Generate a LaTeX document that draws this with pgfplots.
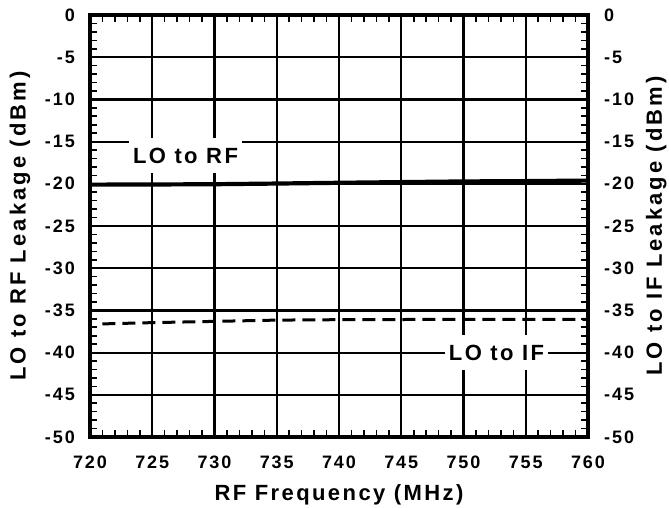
\documentclass[border=0pt]{standalone}
\usepackage{pgfplots}
\pgfplotsset{compat=1.18}
\usepackage{fontspec}
\setmainfont{Liberation Sans}
\newfontfamily\sfont{Liberation Sans}[LetterSpace=11]
\newfontfamily\yfont{Liberation Sans}[LetterSpace=14]
\newcommand\tickfont{\sfont\bfseries\fontsize{18bp}{21bp}\selectfont}
\newcommand\xlabfont{\sfont\bfseries\fontsize{22bp}{26bp}\selectfont}
\newcommand\ylabfont{\yfont\bfseries\fontsize{22bp}{26bp}\selectfont}
\newcommand\annfont{\sfont\bfseries\fontsize{22bp}{26bp}\selectfont}
\newcommand\tl[1]{\mbox{\tickfont\pgfmathprintnumber[assume math mode=true,1000 sep={}]{#1}}}

\pgfplotstableread{
x y
720 -20.10
725 -20.08
730 -20.05
735 -19.97
740 -19.88
745 -19.80
750 -19.72
755 -19.68
760 -19.62
}\rfdata
\pgfplotstableread{
x y
721 -36.60
725 -36.45
730 -36.30
735 -36.15
740 -36.10
745 -36.08
750 -36.05
755 -36.05
760 -36.05
}\ifdata

\begin{document}
\begin{tikzpicture}
\path[use as bounding box] (-90bp,-71bp) rectangle (579bp,437bp);
\begin{axis}[
  width=498bp, height=422bp, scale only axis,
  xmin=720, xmax=760, ymin=-50, ymax=0,
  xtick={720,725,...,760}, ytick={-50,-45,...,0},
  xticklabel={\tl{\tick}},
  yticklabel={\tl{\tick}},
  minor x tick num=4, minor y tick num=4,
  grid=major, major grid style={black, line width=2.2bp},
  axis line style={line width=3.5bp, black},
  major tick length=0pt, minor tick length=7bp,
  minor tick style={line width=1.6bp, black},
  tick align=inside,
  tick label style={inner sep=0pt},
  xticklabel style={anchor=north, yshift=-19bp},
  yticklabel style={anchor=east, xshift=-15bp},
  xlabel={RF Frequency (MHz)},
  xlabel style={font=\xlabfont, at={(axis description cs:0.5,-0.138)}, anchor=center},
  ylabel={LO to RF Leakage (dBm)},
  ylabel style={font=\ylabfont, at={(axis description cs:-0.1406,0.5)}, anchor=center},
]
\addplot[black, line width=4.2bp] table[x=x,y=y] {\rfdata};
\addplot[black, line width=3bp, dash pattern=on 13bp off 7bp] table[x=x,y=y] {\ifdata};
\node[fill=white, inner xsep=4bp, inner ysep=0pt, minimum height=35bp, font=\annfont] at (axis cs:727.67,-16.65) {LO to RF};
\node[fill=white, inner xsep=4bp, inner ysep=0pt, minimum height=35bp, font=\annfont] at (axis cs:752.65,-40.0) {LO to IF};
\end{axis}
\begin{axis}[
  width=498bp, height=422bp, scale only axis,
  xmin=720, xmax=760, ymin=-50, ymax=0,
  hide x axis, axis y line*=right,
  ytick={-50,-45,...,0},
  yticklabel={\tl{\tick}},
  axis line style={line width=3.5bp, black},
  major tick length=0pt, minor y tick num=0,
  tick label style={inner sep=0pt},
  yticklabel style={anchor=west, xshift=16bp},
  ylabel={LO to IF Leakage (dBm)},
  ylabel style={font=\ylabfont, at={(axis description cs:1.137,0.5)}, anchor=center, rotate=0},
]
\end{axis}
\end{tikzpicture}
\end{document}
